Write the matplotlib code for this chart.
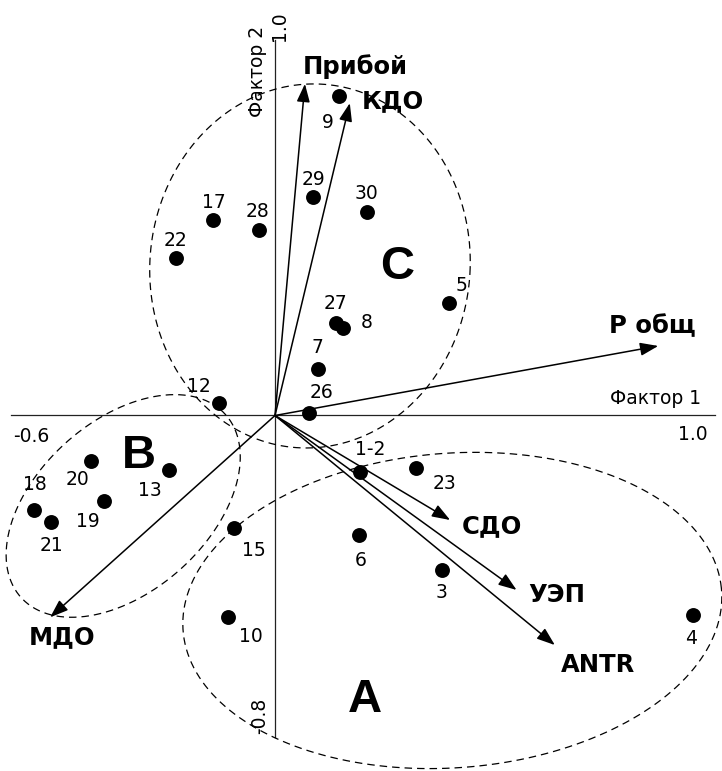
import numpy as np
import matplotlib
matplotlib.use("Agg")
import matplotlib.pyplot as plt

plt.rcParams['font.family'] = ['DejaVu Sans']

# ---- data: object scores (Фактор 1, Фактор 2) ----
point_labels = ['9', '29', '30', '17', '28', '22', '5', '27', '8', '7', '26', '12',
                '13', '20', '19', '18', '21', '1-2', '23', '6', '3', '15', '10', '4']
point_x = [0.146, 0.087, 0.208, -0.140, -0.036, -0.226, 0.396, 0.139, 0.155, 0.097, 0.077, -0.127,
           -0.241, -0.418, -0.389, -0.547, -0.510, 0.193, 0.320, 0.192, 0.379, -0.093, -0.106, 0.951]
point_y = [0.796, 0.544, 0.507, 0.486, 0.461, 0.393, 0.281, 0.229, 0.217, 0.115, 0.007, 0.030,
           -0.136, -0.112, -0.212, -0.235, -0.264, -0.140, -0.131, -0.297, -0.384, -0.281, -0.500, -0.496]

# ---- data: variable loadings (vectors) ----
vector_names = ['Прибой', 'КДО', 'Р общ', 'СДО', 'УЭП', 'ANTR', 'МДО']
vector_x = [0.068, 0.170, 0.871, 0.398, 0.549, 0.636, -0.511]
vector_y = [0.825, 0.777, 0.173, -0.260, -0.434, -0.571, -0.502]

# ---- group ellipses: name, centre x, centre y, semi-axis x, semi-axis y, angle ----
group_names = ['C', 'B', 'A']
group_cx = [0.0795, -0.345, 0.403]
group_cy = [0.372, -0.225, -0.485]
group_rx = [0.364, 0.326, 0.614]
group_ry = [0.453, 0.203, 0.391]
group_angle = [-3.0, 47.6, 5.2]

# ---- layout (label offsets in pixels, text positions) ----
label_offsets = {
    '9': (-11, -27), '29': (0, 17), '30': (0, 18), '17': (0, 18), '28': (-2, 19),
    '22': (0, 17), '5': (12, 17), '27': (-1, 20), '8': (23, 6), '7': (0, 22),
    '26': (13, 20), '12': (-20, 17), '13': (-19, -20), '20': (-14, -19),
    '19': (-16, -21), '18': (1, 25), '21': (1, -24), '1-2': (10, 22),
    '23': (29, -15), '6': (1, -26), '3': (0, -23), '15': (20, -22),
    '10': (23, -20), '4': (-2, -24),
}
vector_label_pos = [(0.183, 0.869), (0.267, 0.782), (0.858, 0.223), (0.494, -0.275),
                    (0.640, -0.447), (0.735, -0.621), (-0.483, -0.551)]
group_label_pos = [(0.277, 0.370), (-0.309, -0.101), (0.205, -0.708)]

W, H = 722, 771
fig = plt.figure(figsize=(W / 100, H / 100), dpi=100)
ax = fig.add_axes([0, 0, 1, 1])
ax.set_xlim(-275 / 440, (W - 275) / 440)
ax.set_ylim((415.5 - H) / 402, 415.5 / 402)
ax.axis('off')

# axes lines
ax.plot([-0.6, 1.0], [0, 0], color='#222222', lw=0.9, zorder=1)
ax.plot([0, 0], [-0.8, 0.935], color='#222222', lw=0.9, zorder=1)

# ellipses
t = np.linspace(0, 2 * np.pi, 400)
for cx, cy, rx, ry, ang in zip(group_cx, group_cy, group_rx, group_ry, group_angle):
    a = np.deg2rad(ang)
    ex = cx + rx * np.cos(t) * np.cos(a) - ry * np.sin(t) * np.sin(a)
    ey = cy + rx * np.cos(t) * np.sin(a) + ry * np.sin(t) * np.cos(a)
    ax.plot(ex, ey, color='black', lw=0.9, dashes=(6, 4), zorder=2)

# vectors
for vx, vy in zip(vector_x, vector_y):
    ax.annotate('', xy=(vx, vy), xytext=(0, 0),
                arrowprops=dict(arrowstyle='-|>,head_length=0.55,head_width=0.2',
                                color='black', lw=1.1, mutation_scale=20,
                                shrinkA=0, shrinkB=0), zorder=3)
for name, (tx, ty) in zip(vector_names, vector_label_pos):
    ax.text(tx, ty, name, fontsize=17.5, fontweight='bold', ha='center', va='center', zorder=5)

# points
ax.scatter(point_x, point_y, s=115, color='black', zorder=4, linewidths=0)
for lab, px, py in zip(point_labels, point_x, point_y):
    dx, dy = label_offsets[lab]
    ax.annotate(lab, xy=(px, py), xytext=(dx, dy), textcoords='offset pixels',
                ha='center', va='center', fontsize=13.5, zorder=5)

# group letters
for name, (gx, gy) in zip(group_names, group_label_pos):
    ax.text(gx, gy, name, fontsize=34, fontweight='bold', ha='center', va='center',
            family=['Liberation Sans', 'DejaVu Sans'], zorder=5)

# axis annotations
ax.text(0.865, 0.0435, 'Фактор 1', fontsize=13.5, ha='center', va='center')
ax.text(0.950, -0.0485, '1.0', fontsize=13.5, ha='center', va='center')
ax.text(-0.553, -0.051, '-0.6', fontsize=13.5, ha='center', va='center')
ax.text(-0.040, 0.857, 'Фактор 2', fontsize=13.5, ha='center', va='center', rotation=90)
ax.text(0.011, 0.969, '1.0', fontsize=13.5, ha='center', va='center', rotation=90)
ax.text(-0.034, -0.746, '-0.8', fontsize=13.5, ha='center', va='center', rotation=90)

fig.savefig('out.png', dpi=100, facecolor='white')
